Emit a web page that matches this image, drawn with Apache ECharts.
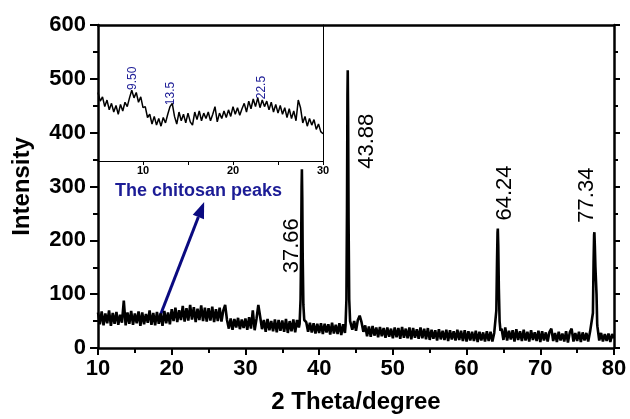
<!DOCTYPE html>
<html>
<head>
<meta charset="utf-8">
<script src="https://cdn.jsdelivr.net/npm/echarts@6/dist/echarts.min.js"></script>
<style>
  html, body { margin: 0; padding: 0; background: #fff; }
  #chart { width: 630px; height: 419px; }
</style>
</head>
<body>
<div id="chart"></div>
<script>
// 主图：基线 10~80°，步长 0.25°
const baseStart = 10;
const baseStep = 0.25;
const baseY = [
  66, 44, 68, 42, 64, 46, 70, 41, 65, 45, 67, 43, 62, 47, 88, 42, 66, 45, 69, 43, // 10-15
  64, 46, 68, 41, 66, 44, 63, 47, 70, 43, 65, 42, 67, 45, 64, 41, 69, 46, 66, 44, // 15-20
  72, 50, 75, 48, 70, 52, 78, 49, 74, 51, 80, 53, 76, 48, 73, 52, 79, 50, 75, 49, // 20-25
  74, 51, 77, 48, 72, 50, 75, 49, 70, 80, 52, 36, 55, 34, 54, 38, 56, 35, 53, 37, // 25-30
  55, 34, 57, 36, 70, 33, 54, 80, 58, 35, 52, 30, 54, 33, 50, 31, 53, 29, 52, 32, // 30-35
  51, 30, 54, 28, 50, 31, 53, 29, 52, 38, 40, 45, 46, 48, 30, 47, 29, 46, 27, 45, // 35-40
  28, 46, 26, 45, 29, 44, 25, 47, 27, 43, 26, 46, 24, 44, 28, 35, 40, 52, 34, 50, // 40-45
  32, 52, 60, 48, 30, 42, 22, 40, 21, 41, 23, 38, 20, 39, 22, 37, 19, 38, 21, 36, // 45-50
  18, 38, 20, 37, 17, 39, 19, 36, 18, 38, 16, 37, 19, 35, 17, 38, 18, 36, 16, 37, // 50-55
  15, 34, 17, 33, 14, 35, 16, 32, 15, 34, 13, 33, 16, 31, 14, 34, 15, 32, 13, 33, // 55-60
  12, 31, 14, 30, 13, 32, 11, 30, 14, 29, 12, 31, 13, 30, 12, 28, 30, 35, 28, 36, // 60-65
  15, 38, 14, 32, 16, 33, 12, 35, 15, 31, 13, 34, 14, 30, 12, 33, 15, 29, 13, 32, // 65-70
  11, 31, 14, 29, 12, 30, 36, 13, 28, 11, 30, 14, 27, 12, 31, 10, 29, 36, 12, 28, // 70-75
  13, 30, 11, 29, 14, 28, 12, 30, 25, 30, 30, 40, 14, 28, 12, 26, 13, 27, 11, 26, 18 // 75-80
];
// 衍射峰
const peakCenters = [37.66, 43.88, 64.24, 77.34];
const peakPoints = [
  [37.35, 45], [37.48, 90], [37.56, 190], [37.62, 300], [37.66, 332], [37.71, 280], [37.77, 170], [37.86, 80], [37.98, 52],
  [43.58, 42], [43.70, 90], [43.78, 260], [43.84, 470], [43.88, 516], [43.93, 430], [43.99, 240], [44.08, 90], [44.20, 50],
  [63.92, 30], [64.04, 70], [64.13, 160], [64.20, 215], [64.24, 222], [64.30, 190], [64.38, 110], [64.48, 50], [64.60, 32],
  [77.02, 28], [77.14, 65], [77.23, 160], [77.30, 210], [77.34, 215], [77.40, 190], [77.48, 150], [77.56, 150], [77.63, 100], [77.72, 45]
];
const peakLabels = ['37.66', '43.88', '64.24', '77.34'];
const peakLabelAt = [[36.3, 190], [46.5, 384], [65.2, 288], [76.35, 284]];

// 插图：壳聚糖 5~30°，步长 0.25°
const insetStart = 5;
const insetStep = 0.25;
const insetY = [
  476, 460, 468, 450, 462, 444, 456, 440, 452, 436, 454, 442, 458, 450, 466, 480, 466, // 5-9
  476, 458, 468, 448, 450, 430, 436, 418, 432, 416, 428, 414, 430, 420, 436, 450, // 9.25-13
  456, 432, 418, 440, 424, 436, 420, 438, 422, 416, 440, 426, 442, 424, 438, 428, // 13.25-17
  440, 424, 436, 450, 422, 438, 428, 442, 430, 444, 432, 450, 436, 448, 434, 446, // 17.25-21
  456, 440, 460, 446, 464, 450, 466, 448, 462, 450, 460, 444, 458, 440, 454, 438, // 21.25-25
  452, 436, 448, 430, 446, 428, 442, 424, 462, 448, 420, 432, 414, 428, 416, 426, // 25.25-29
  408, 418, 404, 400 // 29.25-30
];
const insetLabels = ['9.50', '13.5', '22.5'];
const insetLabelAt = [[8.8, 502], [13.1, 474], [23.2, 485]];

const chitosanText = 'The chitosan peaks';
const chitosanAt = [12.3, 292];
const arrowFrom = [18.4, 59];
const arrowTo = [24.4, 271];

// 合并数据
let mainData = [];
baseY.forEach((v, i) => {
  const x = baseStart + i * baseStep;
  if (peakCenters.every(c => Math.abs(x - c) > 0.35)) mainData.push([x, v]);
});
mainData = mainData.concat(peakPoints).sort((a, b) => a[0] - b[0]);
const insetData = insetY.map((v, i) => [insetStart + i * insetStep, v]);

const FONT = 'Liberation Sans, Arial, sans-serif';
const black = '#000';
const blue = '#1c1c96';

var chart = echarts.init(document.getElementById('chart'));
var option = {
  animation: false,
  grid: [
    { left: 98, right: 16, top: 25, bottom: 69 },
    { left: 98, width: 225, top: 25, height: 136 }
  ],
  xAxis: [
    {
      gridIndex: 0, type: 'value', min: 10, max: 80, interval: 10,
      name: '2 Theta/degree', nameLocation: 'middle', nameGap: 42,
      nameTextStyle: { fontFamily: FONT, fontWeight: 'bold', fontSize: 24, color: black },
      axisLine: { show: true, onZero: false, lineStyle: { color: black, width: 2.5 } },
      axisTick: { show: true, inside: false, length: 7, lineStyle: { width: 2 } },
      minorTick: { show: true, splitNumber: 2, length: 5, lineStyle: { color: black, width: 2 } },
      axisLabel: { fontFamily: FONT, fontWeight: 'bold', fontSize: 22, color: black, margin: 10 },
      splitLine: { show: false }
    },
    {
      gridIndex: 0, type: 'value', min: 10, max: 80, position: 'top',
      axisLine: { show: true, onZero: false, lineStyle: { color: black, width: 2.5 } },
      axisTick: { show: false }, axisLabel: { show: false }, splitLine: { show: false }
    },
    {
      gridIndex: 1, type: 'value', min: 5, max: 30, interval: 5,
      axisLine: { show: true, onZero: false, lineStyle: { color: black, width: 1 } },
      axisTick: { show: true, inside: false, length: 4, lineStyle: { color: black, width: 1 } },
      axisLabel: {
        fontFamily: FONT, fontWeight: 'bold', fontSize: 11, color: black, margin: 4,
        formatter: v => (v % 10 === 0 ? String(v) : '')
      },
      splitLine: { show: false }
    }
  ],
  yAxis: [
    {
      gridIndex: 0, type: 'value', min: 0, max: 600, interval: 100,
      name: 'Intensity', nameLocation: 'middle', nameGap: 64,
      nameTextStyle: { fontFamily: FONT, fontWeight: 'bold', fontSize: 24, color: black },
      axisLine: { show: true, onZero: false, lineStyle: { color: black, width: 2.5 } },
      axisTick: { show: true, inside: false, length: 8, lineStyle: { width: 2 } },
      minorTick: { show: true, splitNumber: 2, length: 5, lineStyle: { color: black, width: 2 } },
      axisLabel: { fontFamily: FONT, fontWeight: 'bold', fontSize: 22, color: black, margin: 12 },
      splitLine: { show: false }
    },
    {
      gridIndex: 0, type: 'value', min: 0, max: 600, interval: 100, position: 'right',
      axisLine: { show: true, onZero: false, lineStyle: { color: black, width: 2.5 } },
      axisTick: { show: true, inside: false, length: 6, lineStyle: { width: 2 } },
      minorTick: { show: true, splitNumber: 2, length: 4, lineStyle: { color: black, width: 2 } },
      axisLabel: { show: false }, splitLine: { show: false }
    },
    {
      gridIndex: 1, type: 'value', min: 350, max: 600, position: 'right',
      axisLine: { show: true, onZero: false, lineStyle: { color: black, width: 1 } },
      axisTick: { show: false }, axisLabel: { show: false }, splitLine: { show: false }
    }
  ],
  series: [
    {
      type: 'line', xAxisIndex: 0, yAxisIndex: 0, data: mainData,
      symbol: 'none', lineStyle: { color: black, width: 2.6 }
    },
    {
      type: 'line', xAxisIndex: 2, yAxisIndex: 2, data: insetData,
      symbol: 'none', lineStyle: { color: black, width: 1.5 }
    }
  ]
};
chart.setOption(option);

// 标注
const graphics = [];
peakLabels.forEach((t, i) => {
  const p = chart.convertToPixel({ gridIndex: 0 }, peakLabelAt[i]);
  graphics.push({
    type: 'text', x: p[0], y: p[1], rotation: Math.PI / 2,
    style: { text: t, fontFamily: FONT, fontSize: 22, fill: black, align: 'center', verticalAlign: 'middle' }
  });
});
insetLabels.forEach((t, i) => {
  const p = chart.convertToPixel({ gridIndex: 1 }, insetLabelAt[i]);
  graphics.push({
    type: 'text', x: p[0], y: p[1], rotation: Math.PI / 2,
    style: { text: t, fontFamily: FONT, fontSize: 12, fill: blue, align: 'center', verticalAlign: 'middle' }
  });
});
const cp = chart.convertToPixel({ gridIndex: 0 }, chitosanAt);
graphics.push({
  type: 'text', x: cp[0], y: cp[1],
  style: { text: chitosanText, fontFamily: FONT, fontWeight: 'bold', fontSize: 18, fill: blue, align: 'left', verticalAlign: 'middle' }
});
// 箭头
const a0 = chart.convertToPixel({ gridIndex: 0 }, arrowFrom);
const a1 = chart.convertToPixel({ gridIndex: 0 }, arrowTo);
const ang = Math.atan2(a1[1] - a0[1], a1[0] - a0[0]);
const hl = 16, hw = 6;
const bx = a1[0] - hl * Math.cos(ang), by = a1[1] - hl * Math.sin(ang);
graphics.push({
  type: 'line', shape: { x1: a0[0], y1: a0[1], x2: bx, y2: by },
  style: { stroke: '#0a0a80', lineWidth: 3 }
});
graphics.push({
  type: 'polygon',
  shape: { points: [
    [a1[0], a1[1]],
    [bx + hw * Math.sin(ang), by - hw * Math.cos(ang)],
    [bx - hw * Math.sin(ang), by + hw * Math.cos(ang)]
  ] },
  style: { fill: '#0a0a80' }
});
chart.setOption({ graphic: graphics });
</script>
</body>
</html>
